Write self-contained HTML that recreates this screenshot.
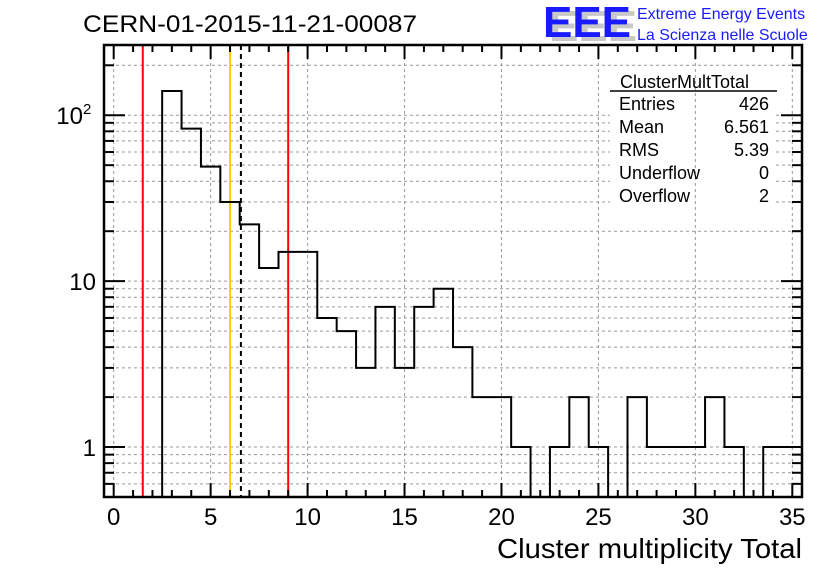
<!DOCTYPE html>
<html><head><meta charset="utf-8">
<style>
html,body{margin:0;padding:0;background:#fff;}
svg{display:block;font-family:"Liberation Sans",sans-serif;}
</style></head>
<body>
<svg id="chart" width="836" height="572" viewBox="0 0 836 572" xmlns="http://www.w3.org/2000/svg">
<text x="83" y="32" font-size="24" textLength="334" lengthAdjust="spacingAndGlyphs">CERN-01-2015-11-21-00087</text>
<g>
<text x="549" y="41" font-size="44" font-weight="bold" fill="#c8c8c8" textLength="88" lengthAdjust="spacingAndGlyphs">EEE</text>
<text x="543" y="37" font-size="44" font-weight="bold" fill="#1a1aff" textLength="88" lengthAdjust="spacingAndGlyphs">EEE</text>
<text x="637" y="19" font-size="16" fill="#1a1aff">Extreme Energy Events</text>
<text x="637" y="40" font-size="16" fill="#1a1aff">La Scienza nelle Scuole</text>
</g>
<g id="grid"></g>
<g id="marks"></g>
<g id="axes"></g>
<g font-size="18">
<text x="620" y="88">ClusterMultTotal</text>
<line x1="610" y1="91" x2="777" y2="91" stroke="#000" stroke-width="1.5"/>
<text x="619" y="110">Entries</text><text x="769" y="110" text-anchor="end">426</text>
<text x="619" y="133">Mean</text><text x="769" y="133" text-anchor="end">6.561</text>
<text x="619" y="156">RMS</text><text x="769" y="156" text-anchor="end">5.39</text>
<text x="619" y="179">Underflow</text><text x="769" y="179" text-anchor="end">0</text>
<text x="619" y="202">Overflow</text><text x="769" y="202" text-anchor="end">2</text>
</g>
<text x="497" y="558" font-size="28" textLength="305" lengthAdjust="spacingAndGlyphs">Cluster multiplicity Total</text>
</svg>
<script>
const binCenters=[3,4,5,6,7,8,9,10,11,12,13,14,15,16,17,18,19,20,21,22,23,24,25,26,27,28,29,30,31,32,33,34,35];
const binCounts=[140,83,49,30,22,12,15,15,6,5,3,7,3,7,9,4,2,2,1,0,1,2,1,0,2,1,1,1,2,1,0,1,1];
const xTicks=[0,5,10,15,20,25,30,35];
const yTicks=[1,10,100];
const yTickLabels=["1","10","10"];
const yTickExps=["","","2"];
const redLines=[1.5,9.0];
const orangeLines=[6.0];
const meanLine=[6.561];

const L=104,R=802,T=45,B=497;
const xMin=-0.5,xMax=35.5,yMin=0.5,yMax=265;
function xs(v){return L+(v-xMin)/(xMax-xMin)*(R-L);}
function ys(v){return B-(Math.log10(v)-Math.log10(yMin))/(Math.log10(yMax)-Math.log10(yMin))*(B-T);}
const NS="http://www.w3.org/2000/svg";
function mk(tag,attrs,parent){const e=document.createElementNS(NS,tag);for(const k in attrs)e.setAttribute(k,attrs[k]);parent.appendChild(e);return e;}
const grid=document.getElementById('grid'),marks=document.getElementById('marks'),axes=document.getElementById('axes');

const yMinor=[];
for(const d of [0.1,1,10,100]){for(let m=1;m<10;m++){const v=m*d;if(v>yMin&&v<yMax)yMinor.push(v);}}
yMinor.forEach(v=>{
  const l=mk('line',{x1:L,x2:R,y1:ys(v),y2:ys(v),stroke:'#999','stroke-dasharray':'3,3','stroke-width':1},grid);
  
  
});
mk('rect',{x:610,y:70,width:165,height:136,fill:'#fff'},grid);
xTicks.forEach(v=>{
  const l=mk('line',{x1:xs(v),x2:xs(v),y1:T,y2:B,stroke:'#999','stroke-dasharray':'3,3','stroke-width':1},grid);
  
  
});

function vline(v,color,dash,name){
  const l=mk('line',{x1:xs(v),x2:xs(v),y1:T,y2:B,stroke:color,'stroke-width':2},marks);
  if(dash)l.setAttribute('stroke-dasharray',dash);
  
  
}
redLines.forEach(v=>vline(v,'#ff0000',null,'red-limit-line'));
orangeLines.forEach(v=>vline(v,'#ffcc00',null,'orange-line'));
meanLine.forEach(v=>vline(v,'#000',"5,4",'mean-line'));

let d='';
function yc(c){return c>0?Math.max(ys(c),T):B;}
binCenters.forEach((c,i)=>{
  const x0=xs(c-0.5),x1=xs(c+0.5),y=yc(binCounts[i]);
  if(i===0)d+=`M${x0},${B}L${x0},${y}`;else d+=`L${x0},${y}`;
  d+=`L${x1},${y}`;
});
const p=mk('path',{d:d,fill:'none',stroke:'#000','stroke-width':2},marks);



const fr=mk('rect',{x:L,y:T,width:R-L,height:B-T,fill:'none',stroke:'#000','stroke-width':2.5},axes);



for(let v=0;v<=35;v++){
  const major=v%5===0,len=major?14:7;
  mk('line',{x1:xs(v),x2:xs(v),y1:B,y2:B-len,stroke:'#000','stroke-width':2},axes);
  mk('line',{x1:xs(v),x2:xs(v),y1:T,y2:T+len,stroke:'#000','stroke-width':2},axes);
}
xTicks.forEach(v=>{
  const t=mk('text',{x:xs(v),y:525,'font-size':24,'text-anchor':'middle'},axes);
  t.textContent=String(v);
  
  
});
yMinor.forEach(v=>{
  const major=yTicks.includes(v),len=major?21:10;
  mk('line',{x1:L,x2:L+len,y1:ys(v),y2:ys(v),stroke:'#000','stroke-width':2},axes);
  mk('line',{x1:R,x2:R-len,y1:ys(v),y2:ys(v),stroke:'#000','stroke-width':2},axes);
});
yTicks.forEach((v,i)=>{
  const exp=yTickExps[i];
  const t=mk('text',{x:exp?83:96,y:ys(v)+9,'font-size':24,'text-anchor':'end'},axes);
  t.textContent=yTickLabels[i];
  
  
  if(exp){
    const s=mk('text',{x:83,y:ys(v)-1,'font-size':15,'text-anchor':'start'},axes);
    s.textContent=exp;
    
    
  }
});
</script>
</body></html>
